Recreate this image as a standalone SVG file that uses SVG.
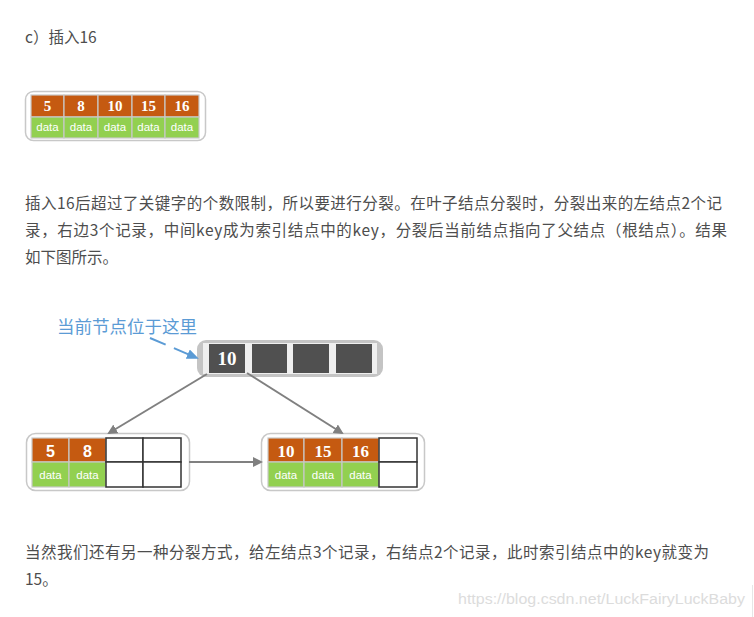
<svg xmlns="http://www.w3.org/2000/svg" width="754" height="617" viewBox="0 0 754 617">
<style>
.p{font-family:"Noto Sans CJK SC","Noto Sans",sans-serif;font-size:15.5px;fill:#4d4d4d}
.outer{fill:#fff;stroke:#c8c8c8;stroke-width:1.5}
.k{fill:#c55a11;stroke:#c8c8c8;stroke-width:1.2}
.d{fill:#92d050;stroke:#c8c8c8;stroke-width:1.2}
.e{fill:#fff;stroke:#333;stroke-width:1.5}
.num{font-family:"Liberation Serif",serif;font-weight:bold;fill:#fff;text-anchor:middle}
.dat{font-family:"Liberation Sans",sans-serif;font-size:11.5px;fill:#fff;text-anchor:middle}
.con{stroke:#808080;stroke-width:2;fill:none}
</style>
<defs>
<marker id="ag" markerWidth="10" markerHeight="10" refX="8" refY="5" orient="auto" markerUnits="userSpaceOnUse">
<path d="M0,0 L10,5 L0,10 Z" fill="#808080"/>
</marker>
<marker id="ab" markerWidth="12" markerHeight="10" refX="10" refY="5" orient="auto" markerUnits="userSpaceOnUse">
<path d="M0,0 L12,5 L0,10 Z" fill="#5b9bd5"/>
</marker>
</defs>
<rect width="754" height="617" fill="#fff"/>
<text class="p" x="25" y="43">c）插入16</text>

<g id="node-top">
<rect class="outer" x="25.5" y="91.5" width="180" height="49" rx="8"/>
<rect class="k" x="31" y="95" width="33" height="22"/>
<rect class="k" x="64" y="95" width="34" height="22"/>
<rect class="k" x="98" y="95" width="34" height="22"/>
<rect class="k" x="132" y="95" width="33" height="22"/>
<rect class="k" x="165" y="95" width="34" height="22"/>
<rect class="d" x="31" y="117" width="33" height="21"/>
<rect class="d" x="64" y="117" width="34" height="21"/>
<rect class="d" x="98" y="117" width="34" height="21"/>
<rect class="d" x="132" y="117" width="33" height="21"/>
<rect class="d" x="165" y="117" width="34" height="21"/>
<g class="num" font-size="15">
<text x="47.5" y="111">5</text><text x="81" y="111">8</text><text x="115" y="111">10</text><text x="148.5" y="111">15</text><text x="182" y="111">16</text>
</g>
<g class="dat">
<text x="47.5" y="131">data</text><text x="81" y="131">data</text><text x="115" y="131">data</text><text x="148.5" y="131">data</text><text x="182" y="131">data</text>
</g>
</g>

<text class="p" x="25" y="209" textLength="697" lengthAdjust="spacing">插入16后超过了关键字的个数限制，所以要进行分裂。在叶子结点分裂时，分裂出来的左结点2个记</text>
<text class="p" x="25" y="236" textLength="702" lengthAdjust="spacing">录，右边3个记录，中间key成为索引结点中的key，分裂后当前结点指向了父结点（根结点）。结果</text>
<text class="p" x="25" y="263">如下图所示。</text>

<g id="label-current">
<text x="57" y="333" font-family="Noto Sans CJK SC,sans-serif" font-size="17.5" fill="#5b9bd5">当前节点位于这里</text>
</g>

<g id="node-root">
<rect x="197" y="340" width="186" height="37" rx="9" fill="#c4c4c4"/>
<rect x="203" y="343" width="174" height="31" fill="#efefef"/>
<rect x="209" y="344" width="36" height="29" fill="#505050"/>
<rect x="252" y="344" width="35" height="29" fill="#505050"/>
<rect x="293" y="344" width="36" height="29" fill="#505050"/>
<rect x="336" y="344" width="36" height="29" fill="#505050"/>
<text class="num" x="227" y="365" font-size="19">10</text>
</g>

<g id="node-left">
<rect class="outer" x="26.5" y="433.5" width="163" height="57" rx="9"/>
<rect class="k" x="32" y="438" width="37" height="24"/>
<rect class="k" x="69" y="438" width="37" height="24"/>
<rect class="d" x="32" y="462" width="37" height="25"/>
<rect class="d" x="69" y="462" width="37" height="25"/>
<rect class="e" x="106" y="438" width="37" height="24"/>
<rect class="e" x="143" y="438" width="38" height="24"/>
<rect class="e" x="106" y="462" width="37" height="25"/>
<rect class="e" x="143" y="462" width="38" height="25"/>
<g font-family="Liberation Sans,sans-serif" font-weight="bold" font-size="16" fill="#fff" text-anchor="middle">
<text x="50.5" y="457">5</text><text x="87.5" y="457">8</text>
</g>
<g class="dat" font-size="12"><text x="50.5" y="479">data</text><text x="87.5" y="479">data</text></g>
</g>

<g id="node-right">
<rect class="outer" x="261.5" y="433.5" width="163" height="57" rx="9"/>
<rect class="k" x="268" y="438" width="36" height="24"/>
<rect class="k" x="304" y="438" width="38" height="24"/>
<rect class="k" x="342" y="438" width="37" height="24"/>
<rect class="d" x="268" y="462" width="36" height="25"/>
<rect class="d" x="304" y="462" width="38" height="25"/>
<rect class="d" x="342" y="462" width="37" height="25"/>
<rect class="e" x="379" y="438" width="38" height="24"/>
<rect class="e" x="379" y="462" width="38" height="25"/>
<g class="num" font-size="17"><text x="286" y="457">10</text><text x="323" y="457">15</text><text x="360.5" y="457">16</text></g>
<g class="dat" font-size="12"><text x="286" y="479">data</text><text x="323" y="479">data</text><text x="360.5" y="479">data</text></g>
</g>

<g id="connectors">
<line x1="150" y1="338" x2="197" y2="358" stroke="#5b9bd5" stroke-width="2" stroke-dasharray="17,9" marker-end="url(#ab)"/>
<line class="con" x1="207" y1="374" x2="109" y2="433" marker-end="url(#ag)"/>
<line class="con" x1="247" y1="373" x2="342" y2="433" marker-end="url(#ag)"/>
<line class="con" x1="189" y1="462" x2="261" y2="462" marker-end="url(#ag)"/>
</g>

<text class="p" x="25" y="558" textLength="684" lengthAdjust="spacing">当然我们还有另一种分裂方式，给左结点3个记录，右结点2个记录，此时索引结点中的key就变为</text>
<text class="p" x="25" y="585">15。</text>
<text x="458" y="604" font-family="Liberation Sans,sans-serif" font-size="15.5" fill="#dcdcdc" textLength="287" lengthAdjust="spacingAndGlyphs">https://blog.csdn.net/LuckFairyLuckBaby</text>
<line x1="752.5" y1="585" x2="752.5" y2="617" stroke="#e6e6e6" stroke-width="1"/>
</svg>
